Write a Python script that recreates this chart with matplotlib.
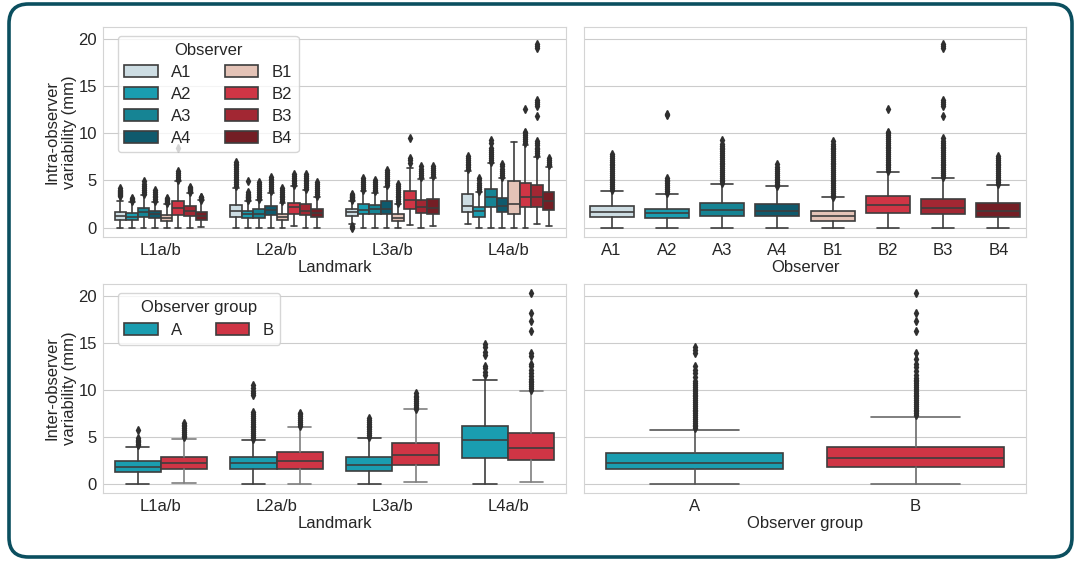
import matplotlib.pyplot as plt
import seaborn as sns
from matplotlib.patches import Patch, FancyBboxPatch

# ---- data ----
landmarks = ['L1a/b', 'L2a/b', 'L3a/b', 'L4a/b']
observers = ['A1', 'A2', 'A3', 'A4', 'B1', 'B2', 'B3', 'B4']
groups = ['A', 'B']

obs_colors = ['#cddde3', '#1a9db0', '#168494', '#0f5a6d',
              '#e4c3b7', '#cf3545', '#a22733', '#741e25']
group_colors = ['#1a9db0', '#cf3545']

# intra-observer variability per landmark: one row per observer, one entry per landmark
intra_q1 = [[0.82, 1.17, 1.25, 1.70], [0.82, 1.00, 1.39, 1.10], [1.11, 1.00, 1.39, 2.17], [1.00, 1.35, 1.39, 1.64],
            [0.71, 0.82, 0.71, 1.42], [1.35, 1.46, 1.96, 2.17], [1.25, 1.35, 1.53, 2.17], [0.82, 1.10, 1.46, 1.88]]
intra_med = [[1.21, 1.80, 1.65, 2.30], [1.10, 1.46, 1.88, 1.81], [1.70, 1.46, 1.96, 3.23], [1.40, 1.88, 1.96, 2.31],
             [1.03, 1.10, 1.07, 2.52], [2.06, 2.17, 2.95, 3.23], [1.78, 1.81, 2.17, 3.30], [1.25, 1.60, 2.06, 2.77]]
intra_q3 = [[1.64, 2.42, 1.96, 3.60], [1.53, 1.81, 2.52, 2.17], [2.13, 1.96, 2.45, 4.09], [1.78, 2.34, 2.77, 3.13],
            [1.35, 1.46, 1.42, 4.90], [2.77, 2.66, 3.84, 4.73], [2.30, 2.52, 2.95, 4.55], [1.70, 1.99, 3.02, 3.73]]
intra_lo = [[0.0, 0.0, 0.4, 0.4], [0.0, 0.0, 0.0, 0.0], [0.0, 0.0, 0.0, 0.0], [0.0, 0.0, 0.0, 0.0],
            [0.0, 0.0, 0.0, 0.0], [0.0, 0.2, 0.28, 0.0], [0.0, 0.0, 0.0, 0.36], [0.1, 0.0, 0.18, 0.2]]
intra_hi = [[2.8, 4.2, 2.8, 6.0], [2.7, 2.8, 3.84, 3.73], [3.48, 2.9, 3.7, 6.86], [2.7, 3.66, 4.3, 5.26],
            [2.5, 2.6, 2.5, 9.1], [4.9, 4.4, 6.3, 8.8], [3.66, 4.0, 5.2, 7.5], [2.88, 3.3, 5.3, 6.43]]
intra_fliers = [
    [[3.4, 3.5, 3.6, 3.7, 3.8, 3.9, 4.0, 4.2],
     [4.4, 4.6, 4.8, 5.0, 5.2, 5.4, 5.6, 5.8, 6.0, 6.2, 6.4, 6.6, 6.8, 7.0],
     [0.0, 0.1, 0.2, 2.9, 3.0, 3.1, 3.2, 3.3, 3.4, 3.5, 3.6],
     [6.2, 6.4, 6.6, 6.8, 7.0, 7.2, 7.4, 7.6]],
    [[2.8, 2.9, 3.0, 3.1],
     [2.9, 3.0, 3.1, 3.2, 3.3, 3.4, 3.5, 3.6, 3.8, 4.9, 12.0],
     [4.0, 4.2, 4.4, 4.6, 4.8, 5.0, 5.3],
     [3.9, 4.1, 4.3, 4.5, 4.7, 5.0, 5.3]],
    [[3.6, 3.8, 4.0, 4.2, 4.4, 4.6, 4.9],
     [3.0, 3.2, 3.4, 3.6, 3.8, 4.0, 4.2, 4.4, 4.6, 4.8],
     [3.85, 4.0, 4.2, 4.4, 4.6, 4.8, 5.1],
     [7.0, 7.2, 7.4, 7.6, 7.8, 8.0, 8.2, 8.5, 9.0, 9.3]],
    [[2.8, 3.0, 3.2, 3.4, 3.6, 3.8, 4.0],
     [3.84, 4.0, 4.2, 4.4, 4.6, 4.8, 5.0, 5.2, 5.4],
     [4.5, 4.7, 4.9, 5.1, 5.3, 5.5, 5.7, 5.9, 6.1],
     [5.4, 5.6, 5.8, 6.0, 6.2, 6.5, 6.8]],
    [[2.6, 2.7, 2.8, 2.9, 3.0, 3.1],
     [2.8, 3.0, 3.2, 3.4, 3.6, 3.8, 4.0, 4.2],
     [2.6, 2.8, 3.0, 3.2, 3.4, 3.6, 3.8, 4.0, 4.2, 4.4, 4.6],
     []],
    [[5.0, 5.2, 5.4, 5.6, 5.8, 6.0, 8.5],
     [4.55, 4.7, 4.9, 5.1, 5.3, 5.5, 5.7],
     [6.9, 7.2, 7.4, 9.5],
     [9.0, 9.2, 9.4, 9.6, 9.8, 10.0, 10.2, 12.6]],
    [[3.8, 3.9, 4.0, 4.1, 4.2, 4.3],
     [4.1, 4.3, 4.5, 4.7, 4.9, 5.1, 5.3, 5.5, 5.7],
     [5.4, 5.6, 5.8, 6.0, 6.2, 6.5],
     [7.7, 7.9, 8.1, 8.3, 8.5, 8.8, 9.0, 9.2, 11.8, 12.9, 13.1, 13.3, 13.5, 19.1, 19.3, 19.5]],
    [[2.95, 3.1, 3.2, 3.3],
     [3.4, 3.6, 3.8, 4.0, 4.2, 4.4, 4.6, 4.8],
     [5.5, 5.7, 5.9, 6.1, 6.3, 6.5],
     [6.6, 6.8, 7.0, 7.2, 7.4]],
]

# intra-observer variability per observer (all landmarks pooled)
obs_q1 = [1.10, 1.00, 1.25, 1.25, 0.75, 1.60, 1.42, 1.17]
obs_med = [1.67, 1.60, 1.88, 1.81, 1.25, 2.38, 2.06, 1.78]
obs_q3 = [2.24, 2.00, 2.66, 2.52, 1.78, 3.38, 3.02, 2.60]
obs_lo = [0, 0, 0, 0, 0, 0, 0, 0]
obs_hi = [3.9, 3.55, 4.65, 4.37, 3.23, 5.93, 5.26, 4.55]
obs_fliers = [
    [4.0, 4.2, 4.4, 4.6, 4.8, 5.0, 5.2, 5.4, 5.6, 5.8, 6.0, 6.2, 6.4, 6.6, 6.8, 7.0, 7.2, 7.4, 7.6, 7.8],
    [3.7, 3.9, 4.1, 4.3, 4.5, 4.7, 4.9, 5.1, 5.3, 12.0, 12.1],
    [4.7, 4.9, 5.1, 5.3, 5.5, 5.7, 5.9, 6.1, 6.3, 6.5, 6.7, 6.9, 7.1, 7.3, 7.5, 7.7, 7.9, 8.1, 8.3,
     8.5, 8.7, 8.9, 9.3],
    [4.45, 4.6, 4.8, 5.0, 5.2, 5.4, 5.6, 5.8, 6.0, 6.2, 6.4, 6.8],
    [3.3, 3.5, 3.7, 3.9, 4.1, 4.3, 4.5, 4.7, 4.9, 5.1, 5.3, 5.5, 5.7, 5.9, 6.1, 6.3, 6.5, 6.7, 6.9,
     7.1, 7.3, 7.5, 7.7, 7.9, 8.1, 8.3, 8.5, 8.7, 8.9, 9.2],
    [6.0, 6.2, 6.4, 6.6, 6.8, 7.0, 7.2, 7.4, 7.6, 7.8, 8.0, 8.2, 8.4, 8.6, 8.8, 9.0, 9.2, 9.4, 9.6,
     9.8, 10.0, 10.2, 12.6],
    [5.4, 5.6, 5.8, 6.0, 6.2, 6.4, 6.6, 6.8, 7.0, 7.2, 7.4, 7.6, 7.8, 8.0, 8.2, 8.4, 8.6, 8.8, 9.0,
     9.2, 9.5, 11.8, 12.9, 13.1, 13.3, 13.5, 19.1, 19.3, 19.5],
    [4.65, 4.8, 5.0, 5.2, 5.4, 5.6, 5.8, 6.0, 6.2, 6.4, 6.6, 6.8, 7.0, 7.2, 7.4, 7.6],
]

# inter-observer variability per landmark: one row per group
inter_q1 = [[1.25, 1.57, 1.39, 2.70], [1.53, 1.60, 1.96, 2.53]]
inter_med = [[1.75, 2.17, 2.03, 4.66], [2.17, 2.38, 3.02, 3.77]]
inter_q3 = [[2.38, 2.81, 2.81, 6.15], [2.88, 3.41, 4.37, 5.44]]
inter_lo = [[0.0, 0.0, 0.0, 0.0], [0.05, 0.0, 0.18, 0.18]]
inter_hi = [[3.95, 4.66, 4.87, 11.05], [4.8, 6.08, 7.93, 9.85]]
inter_fliers = [
    [[4.1, 4.25, 4.4, 4.55, 4.7, 4.9, 5.7],
     [4.8, 5.0, 5.2, 5.4, 5.6, 5.8, 6.0, 6.2, 6.4, 6.6, 6.8, 7.0, 7.2, 7.4, 7.6, 9.5, 9.7, 9.9, 10.2, 10.5],
     [5.0, 5.2, 5.4, 5.6, 5.8, 6.0, 6.2, 6.4, 6.6, 6.8, 7.0],
     [11.6, 11.9, 12.3, 12.6, 13.7, 14.0, 14.6, 14.9]],
    [[4.95, 5.1, 5.3, 5.5, 5.7, 5.9, 6.1, 6.3, 6.5],
     [6.2, 6.4, 6.6, 6.8, 7.0, 7.2, 7.4, 7.5],
     [8.0, 8.2, 8.4, 8.6, 8.8, 9.0, 9.2, 9.4, 9.7],
     [10.0, 10.2, 10.4, 10.6, 10.8, 11.0, 11.2, 11.5, 11.8, 12.1, 12.5, 12.8, 13.6, 13.9,
      16.3, 17.3, 18.2, 20.3]],
]

# inter-observer variability per group (all landmarks pooled)
grp_q1 = [1.53, 1.78]
grp_med = [2.24, 2.70]
grp_q3 = [3.24, 3.94]
grp_lo = [0, 0]
grp_hi = [5.76, 7.14]
grp_fliers = [
    [5.9, 6.1, 6.3, 6.5, 6.7, 6.9, 7.1, 7.3, 7.5, 7.7, 7.9, 8.1, 8.3, 8.5, 8.7, 8.9, 9.1, 9.3, 9.5,
     9.7, 9.9, 10.1, 10.3, 10.5, 10.7, 11.0, 11.4, 11.8, 12.1, 12.5, 13.9, 14.3, 14.6],
    [7.3, 7.5, 7.7, 7.9, 8.1, 8.3, 8.5, 8.7, 8.9, 9.1, 9.3, 9.5, 9.7, 9.9, 10.1, 10.3, 10.5, 10.7,
     10.9, 11.1, 11.3, 11.6, 12.0, 12.4, 12.8, 13.3, 13.9, 16.3, 17.3, 18.2, 20.3],
]

# ---- style ----
sns.set_style('whitegrid')
plt.rcParams['font.family'] = ['Liberation Sans', 'DejaVu Sans']
plt.rcParams['font.size'] = 12

EDGE = '#3d3d3d'
FLIER = '#2f2f2f'
TEXT = '#262626'
YLIM = (-1.0, 21.3)


def stats_list(q1, med, q3, lo, hi, fl):
    return [dict(q1=a, med=b, q3=c, whislo=d, whishi=e, fliers=f)
            for a, b, c, d, e, f in zip(q1, med, q3, lo, hi, fl)]


def draw(ax, stats, positions, width, face, wcol=EDGE):
    bp = ax.bxp(stats, positions=positions, widths=width, patch_artist=True, manage_ticks=False,
                boxprops=dict(facecolor=face, edgecolor=EDGE, linewidth=1.2),
                medianprops=dict(color=EDGE, linewidth=1.2),
                whiskerprops=dict(color=wcol, linewidth=1.2),
                capprops=dict(color=wcol, linewidth=1.2),
                flierprops=dict(marker='d', markersize=4, markerfacecolor=FLIER,
                                markeredgecolor=FLIER, linestyle='none'))
    return bp


def style_axes(ax, labels, xlabel, show_y=True, ylabel=None):
    ax.set_xticks(range(len(labels)))
    ax.set_xticklabels(labels)
    ax.set_xlim(-0.5, len(labels) - 0.5)
    ax.set_ylim(*YLIM)
    ax.set_yticks([0, 5, 10, 15, 20])
    ax.xaxis.grid(False)
    ax.set_xlabel(xlabel, fontsize=12, color=TEXT, labelpad=1)
    ax.tick_params(labelsize=12, colors=TEXT, labelleft=show_y)
    ax.tick_params(axis='x', pad=1)
    ax.tick_params(axis='y', pad=1)
    if ylabel:
        ax.set_ylabel(ylabel, fontsize=12, color=TEXT)
        ax.yaxis.set_label_coords(-0.056, 0.5)
    for s in ax.spines.values():
        s.set_color('#d4d4d4')


fig = plt.figure(figsize=(10.8, 5.61), dpi=100)
W, H = 1080, 561


def add_ax(x0, y0, x1, y1):
    return fig.add_axes([x0 / W, 1 - y1 / H, (x1 - x0) / W, (y1 - y0) / H])


ax1 = add_ax(103, 27, 566, 237)
ax2 = add_ax(584, 27, 1026, 237)
ax3 = add_ax(103, 284, 566, 493)
ax4 = add_ax(584, 284, 1026, 493)

# top-left: observer boxes grouped by landmark
n_obs = len(observers)
for k in range(n_obs):
    off = -0.4 + 0.8 / n_obs * (k + 0.5)
    st = stats_list(intra_q1[k], intra_med[k], intra_q3[k], intra_lo[k], intra_hi[k], intra_fliers[k])
    draw(ax1, st, [i + off for i in range(len(landmarks))], 0.8 / n_obs, obs_colors[k])
style_axes(ax1, landmarks, 'Landmark', ylabel='Intra-observer\nvariability (mm)')
handles = [Patch(facecolor=c, edgecolor=EDGE, linewidth=1.2, label=o) for o, c in zip(observers, obs_colors)]
leg = ax1.legend(handles=handles, title='Observer', ncol=2, loc='upper left', fontsize=12,
                 title_fontsize=12, labelspacing=0.42, borderaxespad=0,
                 bbox_to_anchor=(0.032, 0.957))
leg.get_title().set_color(TEXT)

# top-right: one box per observer
st = stats_list(obs_q1, obs_med, obs_q3, obs_lo, obs_hi, obs_fliers)
for k in range(n_obs):
    draw(ax2, [st[k]], [k], 0.8, obs_colors[k])
style_axes(ax2, observers, 'Observer', show_y=False)

# bottom-left: group boxes grouped by landmark
wcols = [EDGE, '#7f7f7f']
for g in range(len(groups)):
    off = -0.4 + 0.8 / len(groups) * (g + 0.5)
    st = stats_list(inter_q1[g], inter_med[g], inter_q3[g], inter_lo[g], inter_hi[g], inter_fliers[g])
    draw(ax3, st, [i + off for i in range(len(landmarks))], 0.8 / len(groups), group_colors[g], wcols[g])
style_axes(ax3, landmarks, 'Landmark', ylabel='Inter-observer\nvariability (mm)')
handles = [Patch(facecolor=c, edgecolor=EDGE, linewidth=1.2, label=g) for g, c in zip(groups, group_colors)]
leg = ax3.legend(handles=handles, title='Observer group', ncol=2, loc='upper left', fontsize=12,
                 title_fontsize=12, borderaxespad=0, bbox_to_anchor=(0.032, 0.957))
leg.get_title().set_color(TEXT)

# bottom-right: one box per group
st = stats_list(grp_q1, grp_med, grp_q3, grp_lo, grp_hi, grp_fliers)
for g in range(len(groups)):
    draw(ax4, [st[g]], [g], 0.8, group_colors[g], ['#555555', '#6a6a6a'][g])
style_axes(ax4, groups, 'Observer group', show_y=False)

# rounded frame round the whole figure
frame = FancyBboxPatch((9 / W, 4 / H), 1063 / W, 553 / H, boxstyle='round,pad=0,rounding_size=0.018',
                       transform=fig.transFigure, facecolor='none', edgecolor='#0b4f5f', linewidth=2.6,
                       mutation_aspect=W / H)
fig.patches.append(frame)

fig.savefig('out.png', dpi=100)
